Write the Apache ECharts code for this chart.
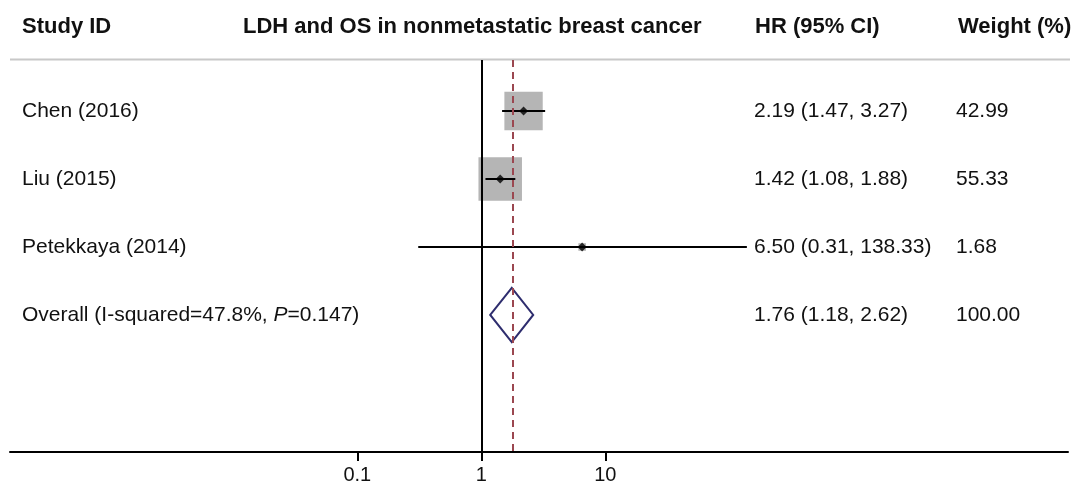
<!DOCTYPE html>
<html>
<head>
<meta charset="utf-8">
<script src="https://cdn.jsdelivr.net/npm/echarts@6/dist/echarts.min.js"></script>
<style>
  html, body { margin: 0; padding: 0; background: #ffffff; }
  #chart { width: 1073px; height: 485px; }
</style>
</head>
<body>
<div id="chart"></div>
<script>
// Study-level hazard ratios with 95% confidence intervals and weights
const studies = ['Chen (2016)', 'Liu (2015)', 'Petekkaya (2014)'];
const hr = [2.19, 1.42, 6.50];
const ciLow = [1.47, 1.08, 0.31];
const ciHigh = [3.27, 1.88, 138.33];
const weights = [42.99, 55.33, 1.68];

// Pooled estimate
const overallHr = [1.76];
const overallLow = [1.18];
const overallHigh = [2.62];
const overallWeight = [100.00];
const overallText = ['Overall (I-squared=47.8%, ', 'P', '=0.147)'];

// Column headers and axis ticks
const headers = ['Study ID', 'LDH and OS in nonmetastatic breast cancer', 'HR (95% CI)', 'Weight (%)'];
const tickValues = [0.1, 1, 10];
const tickLabels = ['0.1', '1', '10'];

const FONT = '"Liberation Sans", Arial, Helvetica, sans-serif';
const lg = v => Math.log10(v);
const fmt = v => v.toFixed(2);

// row index of each study, pooled row follows
const studyRows = studies.map((_, i) => i + 1);
const overallRow = studies.length + 1;

const ciData = studies.map((_, i) => [lg(ciLow[i]), lg(ciHigh[i]), studyRows[i]]);
const boxData = studies.map((_, i) => [lg(hr[i]), studyRows[i], weights[i]]);
const pointData = studies.map((_, i) => [lg(hr[i]), studyRows[i]]);
const diamondData = [[lg(overallLow[0]), lg(overallHr[0]), lg(overallHigh[0]), overallRow]];

const textRows = studies.map((s, i) => ({
  value: [0, studyRows[i]],
  name: s,
  hrText: fmt(hr[i]) + ' (' + fmt(ciLow[i]) + ', ' + fmt(ciHigh[i]) + ')',
  wText: fmt(weights[i])
}));
textRows.push({
  value: [0, overallRow],
  rich: true,
  hrText: fmt(overallHr[0]) + ' (' + fmt(overallLow[0]) + ', ' + fmt(overallHigh[0]) + ')',
  wText: fmt(overallWeight[0])
});

const maxW = Math.max(...weights);
const rowText = { fontSize: 21, fontFamily: FONT, fill: '#111111' };

const chart = echarts.init(document.getElementById('chart'), null, { renderer: 'canvas' });

chart.setOption({
  animation: false,
  backgroundColor: '#ffffff',
  grid: { left: 10, right: 5, top: 60, bottom: 33 },
  xAxis: {
    type: 'value',
    min: -3.8,
    max: 4.73,
    splitLine: { show: false },
    axisLine: { show: true, onZero: false, lineStyle: { color: '#000000', width: 2 } },
    axisTick: {
      show: true,
      length: 9,
      customValues: tickValues.map(lg),
      lineStyle: { color: '#000000', width: 2 }
    },
    axisLabel: {
      show: true,
      margin: 13,
      fontSize: 20,
      fontFamily: FONT,
      color: '#111111',
      customValues: tickValues.map(lg),
      formatter: v => {
        const k = tickValues.findIndex(t => Math.abs(lg(t) - v) < 1e-6);
        return k >= 0 ? tickLabels[k] : '';
      }
    }
  },
  yAxis: {
    type: 'value',
    inverse: true,
    min: 0.25,
    max: 6.015,
    show: false
  },
  graphic: [
    {
      type: 'line',
      shape: { x1: 10, y1: 59.5, x2: 1070, y2: 59.5 },
      style: { stroke: '#c8c8c8', lineWidth: 2 },
      silent: true
    },
    { type: 'text', x: 22, y: 27, style: { text: headers[0], fontSize: 22, fontWeight: 'bold', fontFamily: FONT, fill: '#111111', verticalAlign: 'middle' } },
    { type: 'text', x: 243, y: 27, style: { text: headers[1], fontSize: 22, fontWeight: 'bold', fontFamily: FONT, fill: '#111111', verticalAlign: 'middle' } },
    { type: 'text', x: 755, y: 27, style: { text: headers[2], fontSize: 22, fontWeight: 'bold', fontFamily: FONT, fill: '#111111', verticalAlign: 'middle' } },
    { type: 'text', x: 958, y: 27, style: { text: headers[3], fontSize: 22, fontWeight: 'bold', fontFamily: FONT, fill: '#111111', verticalAlign: 'middle' } }
  ],
  series: [
    {
      // weight-scaled study boxes, plus the null and pooled reference lines
      type: 'scatter',
      data: boxData,
      symbol: 'rect',
      symbolSize: v => 43.5 * Math.sqrt(v[2] / maxW),
      itemStyle: { color: '#b5b5b5', opacity: 1 },
      silent: true,
      z: 2,
      markLine: {
        silent: true,
        symbol: ['none', 'none'],
        label: { show: false },
        data: [
          { xAxis: 0, lineStyle: { color: '#000000', width: 2, type: 'solid' } },
          { xAxis: lg(overallHr[0]), lineStyle: { color: '#9b4750', width: 2, type: [7, 5] } }
        ]
      }
    },
    {
      // confidence interval whiskers
      type: 'custom',
      data: ciData,
      z: 3,
      silent: true,
      renderItem: (params, api) => {
        const a = api.coord([api.value(0), api.value(2)]);
        const b = api.coord([api.value(1), api.value(2)]);
        return {
          type: 'line',
          shape: { x1: a[0], y1: a[1], x2: b[0], y2: b[1] },
          style: { stroke: '#000000', lineWidth: 2 }
        };
      }
    },
    {
      // point estimates
      type: 'scatter',
      data: pointData,
      symbol: 'diamond',
      symbolSize: 9,
      itemStyle: { color: '#000000' },
      silent: true,
      z: 4
    },
    {
      // pooled estimate diamond
      type: 'custom',
      data: diamondData,
      z: 4,
      silent: true,
      renderItem: (params, api) => {
        const row = api.value(3);
        const l = api.coord([api.value(0), row]);
        const c = api.coord([api.value(1), row]);
        const r = api.coord([api.value(2), row]);
        const top = api.coord([api.value(1), row - 0.4]);
        const bot = api.coord([api.value(1), row + 0.4]);
        return {
          type: 'polygon',
          shape: { points: [[l[0], l[1]], [c[0], top[1]], [r[0], r[1]], [c[0], bot[1]]] },
          style: { fill: 'none', stroke: '#2e2d6e', lineWidth: 2 }
        };
      }
    },
    {
      // study labels, estimates and weights
      type: 'custom',
      data: textRows,
      z: 5,
      silent: true,
      renderItem: (params, api) => {
        const item = textRows[params.dataIndex];
        const y = api.coord([0, api.value(1)])[1];
        const first = item.rich
          ? {
              type: 'text', x: 22, y: y,
              style: {
                text: '{n|' + overallText[0] + '}{i|' + overallText[1] + '}{n|' + overallText[2] + '}',
                verticalAlign: 'middle',
                rich: {
                  n: { fontSize: 21, fontFamily: FONT, fill: '#111111' },
                  i: { fontSize: 21, fontFamily: FONT, fill: '#111111', fontStyle: 'italic' }
                }
              }
            }
          : { type: 'text', x: 22, y: y, style: Object.assign({ text: item.name, verticalAlign: 'middle' }, rowText) };
        return {
          type: 'group',
          children: [
            first,
            { type: 'text', x: 754, y: y, style: Object.assign({ text: item.hrText, verticalAlign: 'middle' }, rowText) },
            { type: 'text', x: 956, y: y, style: Object.assign({ text: item.wText, verticalAlign: 'middle' }, rowText) }
          ]
        };
      }
    }
  ]
});
</script>
</body>
</html>
